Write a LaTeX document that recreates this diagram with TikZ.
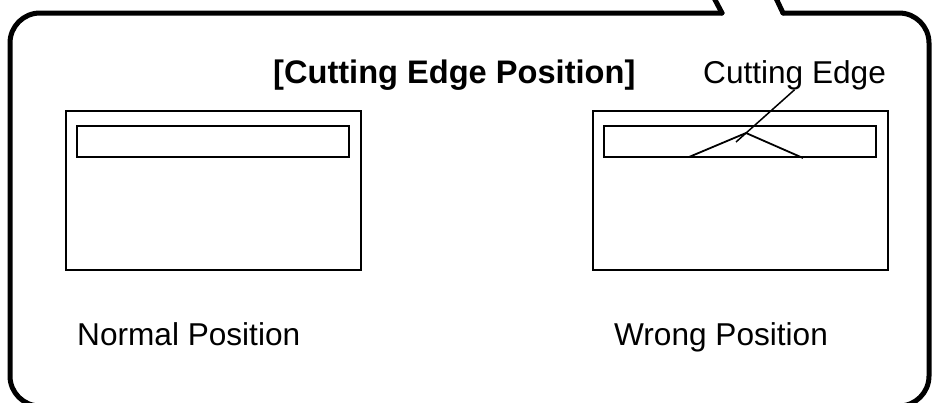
\documentclass[tikz,border=0pt]{standalone}
\usepackage{fontspec}
\setmainfont{Liberation Sans}
\usetikzlibrary{positioning}

\tikzset{
  frame/.style={line width=5pt, line cap=round, line join=round},
  plate/.style={draw, line width=1.6pt},
  edgeline/.style={line width=1.8pt},
  lbl/.style={anchor=base west, inner sep=0pt, font=\fontsize{31.6}{38}\selectfont}
}

\begin{document}
\begin{tikzpicture}[x=1pt, y=-1pt]
    \useasboundingbox (0,0) rectangle (934,402);
    % callout frame
    \draw[frame, rounded corners=30pt] (722,13) -- (10,13) -- (10,406) -- (929,406) -- (929,13) -- (783,13);
    \draw[frame] (722,13) -- (713,-4);
    \draw[frame] (783,13) -- (775,-4);
    % title and labels
    \node[lbl, font=\fontsize{32.6}{38}\selectfont\bfseries] (title) at (273,83) {[Cutting Edge Position]};
    \node[lbl] (ce) at (703,83) {Cutting Edge};
    \node[lbl] (normal) at (77,345) {Normal Position};
    \node[lbl] (wrong) at (614,345) {Wrong Position};
    % the two plates
    \foreach \dx in {0,527} {
        \draw[plate] (66+\dx,111) rectangle (361+\dx,270);
        \draw[plate] (77+\dx,126) rectangle (349+\dx,157);
    }
    % cutting edge in wrong position
    \coordinate (cl) at (689,157);
    \coordinate (ct) at (746,133);
    \coordinate (cr) at (803,158);
    \coordinate (lead) at (736,142);
    \draw[edgeline] (cl) -- (ct) -- (cr);
    \draw[line width=1.5pt] (lead) -- (ce.south);
\end{tikzpicture}
\end{document}
